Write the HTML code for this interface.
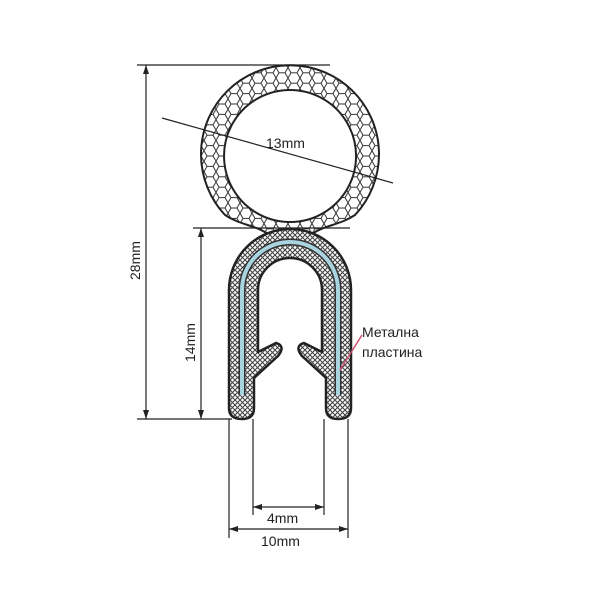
<!DOCTYPE html>
<html><head><style>body{margin:0;background:#fff}svg{display:block}</style></head><body>
<svg width="600" height="600" viewBox="0 0 600 600" xmlns="http://www.w3.org/2000/svg" font-family="Liberation Sans, sans-serif">
<defs>
<pattern id="hex" width="12" height="10.4" patternUnits="userSpaceOnUse">
<rect width="12" height="10.4" fill="#fff"/>
<path d="M0,5.2 L3,0 L9,0 L12,5.2 L9,10.4 L3,10.4 Z" fill="none" stroke="#333" stroke-width="1"/>
</pattern>
<pattern id="xh" width="5" height="5" patternUnits="userSpaceOnUse">
<rect width="5" height="5" fill="#fff"/>
<path d="M0,0 L5,5 M5,0 L0,5" stroke="#444" stroke-width="1.1"/>
</pattern>
</defs>
<path fill-rule="evenodd" fill="url(#hex)" stroke="#222" stroke-width="2"
 d="M268,234 C255,225 240,225 225,215 A89,89 0 1 1 355,215 C340,225 325,225 312,234 Z
    M290,90 A66,66 0 1 0 290.1,90 Z"/>
<path fill="url(#xh)" stroke="#222" stroke-width="2.5" stroke-linejoin="round"
 d="M229,290 A61,61 0 0 1 351,290 L351,408 Q351,419 338,419 Q326,419 326,408 L326,378 L302,356 Q294,346 304,343 L322,352 L322,290 A32,32 0 0 0 258,290 L258,352 L276,343 Q286,346 278,356 L254,378 L254,408 Q254,419 242,419 Q229,419 229,408 Z"/>
<path d="M242,395 L242,290 A48,48 0 0 1 338,290 L338,395" fill="none" stroke="#333" stroke-width="7"/>
<path d="M242,395 L242,290 A48,48 0 0 1 338,290 L338,395" fill="none" stroke="#a9d3df" stroke-width="4"/>
<g stroke="#222" stroke-width="1.2" fill="none">
<line x1="137" y1="65" x2="330" y2="65"/>
<line x1="137" y1="419" x2="232" y2="419"/>
<line x1="146" y1="65" x2="146" y2="419"/>
<line x1="193" y1="228" x2="350" y2="228"/>
<line x1="201" y1="228" x2="201" y2="419"/>
<line x1="162" y1="118" x2="393" y2="183"/>
<line x1="229" y1="419" x2="229" y2="538"/>
<line x1="253" y1="419" x2="253" y2="515"/>
<line x1="324" y1="419" x2="324" y2="515"/>
<line x1="348" y1="419" x2="348" y2="538"/>
<line x1="253" y1="507" x2="324" y2="507"/>
<line x1="229" y1="529" x2="348" y2="529"/>
</g>
<g fill="#222">
<path d="M146,65 l-3,9 h6z M146,419 l-3,-9 h6z M201,228 l-3,9 h6z M201,419 l-3,-9 h6z"/>
<path d="M253,507 l9,-3 v6z M324,507 l-9,-3 v6z M229,529 l9,-3 v6z M348,529 l-9,-3 v6z"/>
</g>
<line x1="340" y1="370" x2="362" y2="335" stroke="#d05070" stroke-width="1.5"/>
<g font-size="14" fill="#222">
<text x="266" y="148">13mm</text>
<text x="267" y="523">4mm</text>
<text x="261" y="546">10mm</text>
<text x="362" y="337">Метална</text>
<text x="362" y="357">пластина</text>
<text transform="translate(140,280) rotate(-90)">28mm</text>
<text transform="translate(195,362) rotate(-90)">14mm</text>
</g>
</svg>
</body></html>
